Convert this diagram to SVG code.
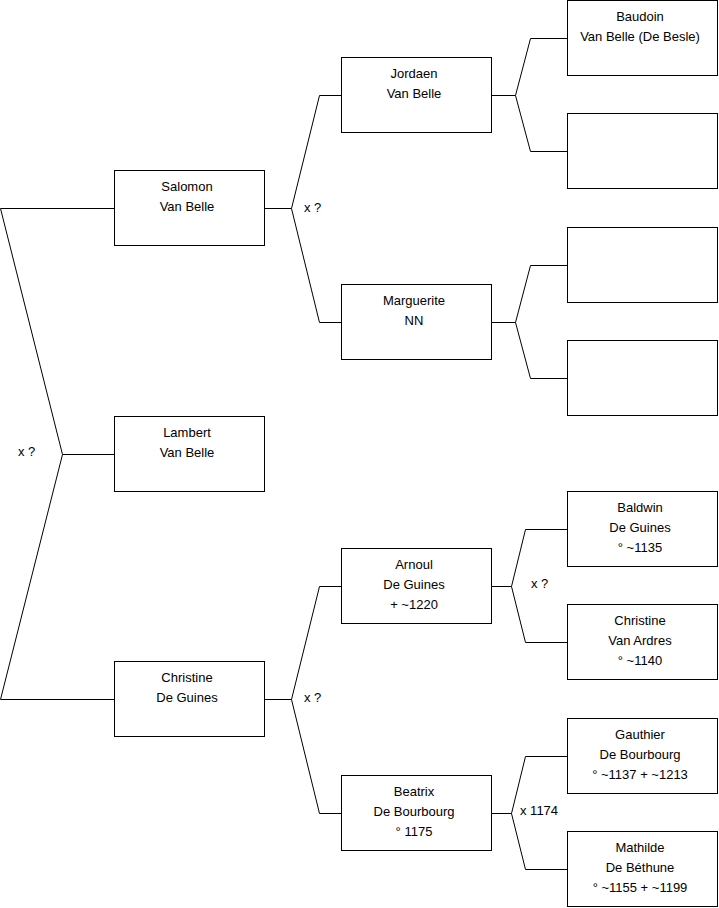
<svg xmlns="http://www.w3.org/2000/svg" width="719" height="908" viewBox="0 0 719 908">
<style>
.box{fill:#fff;stroke:#000;stroke-width:1}
.c{fill:none;stroke:#000;stroke-width:1}
text{font-family:"Liberation Sans",Arial,sans-serif;font-size:13px;fill:#000}
.t{text-anchor:middle}
</style>
<rect width="719" height="908" fill="#fff"/>
<g id="connectors">
<path class="c" d="M0.5,208.5H114 M0.5,208.5L62.5,454.5L0.5,699.5 M62.5,454.5H114 M0.5,699.5H114"/>
<path class="c" d="M265,208.5H291.5 M319.5,95.5L291.5,208.5L319.5,322.5 M319.5,95.5H341 M319.5,322.5H341"/>
<path class="c" d="M265,699.5H291.5 M319.5,586.5L291.5,699.5L319.5,813.5 M319.5,586.5H341 M319.5,813.5H341"/>
<path class="c" d="M492,95.5H515.5 M530.5,38.5L515.5,95.5L530.5,151.5 M530.5,38.5H567 M530.5,151.5H567"/>
<path class="c" d="M492,322.5H515.5 M530.5,265.5L515.5,322.5L530.5,378.5 M530.5,265.5H567 M530.5,378.5H567"/>
<path class="c" d="M492,586.5H511.5 M525.5,529.5L511.5,586.5L525.5,642.5 M525.5,529.5H567 M525.5,642.5H567"/>
<path class="c" d="M492,813.5H511.5 M525.5,756.5L511.5,813.5L525.5,869.5 M525.5,756.5H567 M525.5,869.5H567"/>
<text x="18" y="456">x ?</text>
<text x="304" y="212">x ?</text>
<text x="304" y="702">x ?</text>
<text x="531" y="588">x ?</text>
<text x="520" y="815">x 1174</text>
</g>
<g id="salomon"><rect class="box" x="114.5" y="170.5" width="150" height="75"/><text class="t" x="187" y="191">Salomon</text><text class="t" x="187" y="211">Van Belle</text></g>
<g id="lambert"><rect class="box" x="114.5" y="416.5" width="150" height="75"/><text class="t" x="187" y="437">Lambert</text><text class="t" x="187" y="457">Van Belle</text></g>
<g id="christine"><rect class="box" x="114.5" y="661.5" width="150" height="75"/><text class="t" x="187" y="682">Christine</text><text class="t" x="187" y="702">De Guines</text></g>
<g id="jordaen"><rect class="box" x="341.5" y="57.5" width="150" height="75"/><text class="t" x="414" y="78">Jordaen</text><text class="t" x="414" y="98">Van Belle</text></g>
<g id="marguerite"><rect class="box" x="341.5" y="284.5" width="150" height="75"/><text class="t" x="414" y="305">Marguerite</text><text class="t" x="414" y="325">NN</text></g>
<g id="arnoul"><rect class="box" x="341.5" y="548.5" width="150" height="75"/><text class="t" x="414" y="569">Arnoul</text><text class="t" x="414" y="589">De Guines</text><text class="t" x="414" y="609">+ ~1220</text></g>
<g id="beatrix"><rect class="box" x="341.5" y="775.5" width="150" height="75"/><text class="t" x="414" y="796">Beatrix</text><text class="t" x="414" y="816">De Bourbourg</text><text class="t" x="414" y="836">° 1175</text></g>
<g id="baudoin"><rect class="box" x="567.5" y="0.5" width="150" height="75"/><text class="t" x="640" y="21">Baudoin</text><text class="t" x="640" y="41">Van Belle (De Besle)</text></g>
<g id="empty1"><rect class="box" x="567.5" y="113.5" width="150" height="75"/></g>
<g id="empty2"><rect class="box" x="567.5" y="227.5" width="150" height="75"/></g>
<g id="empty3"><rect class="box" x="567.5" y="340.5" width="150" height="75"/></g>
<g id="baldwin"><rect class="box" x="567.5" y="491.5" width="150" height="75"/><text class="t" x="640" y="512">Baldwin</text><text class="t" x="640" y="532">De Guines</text><text class="t" x="640" y="552">° ~1135</text></g>
<g id="christine2"><rect class="box" x="567.5" y="604.5" width="150" height="75"/><text class="t" x="640" y="625">Christine</text><text class="t" x="640" y="645">Van Ardres</text><text class="t" x="640" y="665">° ~1140</text></g>
<g id="gauthier"><rect class="box" x="567.5" y="718.5" width="150" height="75"/><text class="t" x="640" y="739">Gauthier</text><text class="t" x="640" y="759">De Bourbourg</text><text class="t" x="640" y="779">° ~1137 + ~1213</text></g>
<g id="mathilde"><rect class="box" x="567.5" y="831.5" width="150" height="75"/><text class="t" x="640" y="852">Mathilde</text><text class="t" x="640" y="872">De Béthune</text><text class="t" x="640" y="892">° ~1155 + ~1199</text></g>
</svg>
